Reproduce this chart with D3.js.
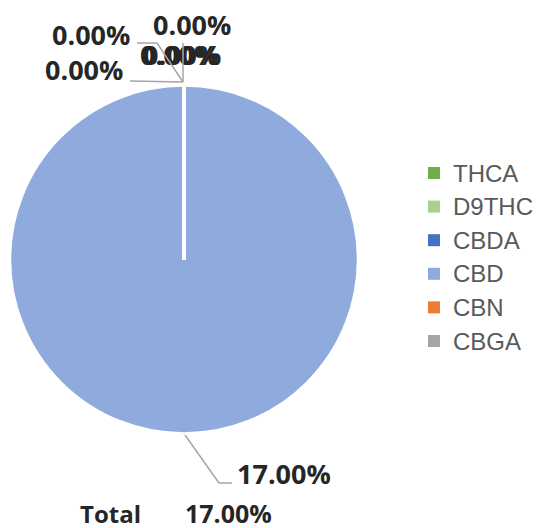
<!DOCTYPE html>
<html><head><meta charset="utf-8">
<script src="https://cdn.jsdelivr.net/npm/d3@7"></script>
<style>html,body{margin:0;padding:0;background:#fff;}</style>
</head><body>
<svg id="chart" width="543" height="528"></svg>
<script>
const categories = ["THCA", "D9THC", "CBDA", "CBD", "CBN", "CBGA"];
const values = [0, 0, 0, 17, 0, 0];
const colors = ["#70ad47", "#a9d18e", "#4472c4", "#8faadc", "#ed7d31", "#a5a5a5"];
const totalLabel = "Total";
const totalValue = 17;

const svg = d3.select("#chart");
const cx = 184, cy = 259.5, r = 174.5;
const fmt = v => v.toFixed(2) + "%";

const pie = d3.pie().sort(null).value(d => d.v);
const arcs = pie(categories.map((c, i) => ({c, v: values[i], color: colors[i]})));
const arc = d3.arc().innerRadius(0).outerRadius(r);

const g = svg.append("g").attr("transform", `translate(${cx},${cy})`);
g.selectAll("path.slice").data(arcs.filter(d => d.data.v > 0)).join("path")
  .attr("class", "slice").attr("d", arc).attr("fill", d => d.data.color)
  .attr("stroke", "#fff").attr("stroke-width", 3.5);
g.selectAll("path.zero").data(arcs.filter(d => d.data.v === 0)).join("path")
  .attr("class", "zero").attr("d", arc).attr("fill", d => d.data.color)
  .attr("stroke", "#fff").attr("stroke-width", 3.5);

// label layout (offsets relative to the slice's outer edge point)
const labelLayout = {
  THCA:  {dx: -44, dy: -20, leader: null},
  D9THC: {dx: -41, dy: -20, leader: null},
  CBDA:  {dx: -132, dy: -40, leader: [[-47,-42],[-27,-42],[-1,-3]]},
  CBD:   {dx: 53, dy: 50, leader: [[1,1],[35,49],[48,49]]},
  CBN:   {dx: -139, dy: -5, leader: [[-54,-4],[-1,-3]]},
  CBGA:  {dx: -31, dy: -50, leader: [[-1,-42],[-1,-3]]}
};

const lbl = svg.append("g");
arcs.forEach(d => {
  const mid = (d.startAngle + d.endAngle) / 2;
  const ex = cx + Math.sin(mid) * r, ey = cy - Math.cos(mid) * r;
  const L = labelLayout[d.data.c];
  if (L.leader) {
    lbl.append("path")
      .attr("d", d3.line()(L.leader.map(p => [ex + p[0], ey + p[1]])))
      .attr("fill", "none").attr("stroke", "#a6a6a6").attr("stroke-width", 1.5);
  }
  lbl.append("text").attr("x", ex + L.dx).attr("y", ey + L.dy)
    .attr("font-family", "'Open Sans', sans-serif").attr("font-weight", "bold")
    .attr("font-size", 27).attr("fill", "#262626")
    .text(fmt(d.data.v));
});

// total row
svg.append("text").attr("x", 80).attr("y", 523)
  .attr("font-family", "'Open Sans', sans-serif").attr("font-weight", "bold")
  .attr("font-size", 24).attr("fill", "#262626").text(totalLabel);
svg.append("text").attr("x", 185).attr("y", 523)
  .attr("font-family", "'Open Sans', sans-serif").attr("font-weight", "bold")
  .attr("font-size", 25).attr("fill", "#262626").text(fmt(totalValue));

// legend
const ly = d3.scalePoint().domain(categories).range([173, 341]);
const leg = svg.append("g").selectAll("g").data(categories).join("g")
  .attr("transform", d => `translate(428,${ly(d)})`);
leg.append("rect").attr("x", 0).attr("y", -6).attr("width", 12).attr("height", 12)
  .attr("fill", (d, i) => colors[i]);
leg.append("text").attr("x", 25).attr("y", 8.5)
  .attr("font-family", "'Liberation Sans', Arial, sans-serif").attr("font-size", 24)
  .attr("fill", "#595959").text(d => d);
</script>
</body></html>
